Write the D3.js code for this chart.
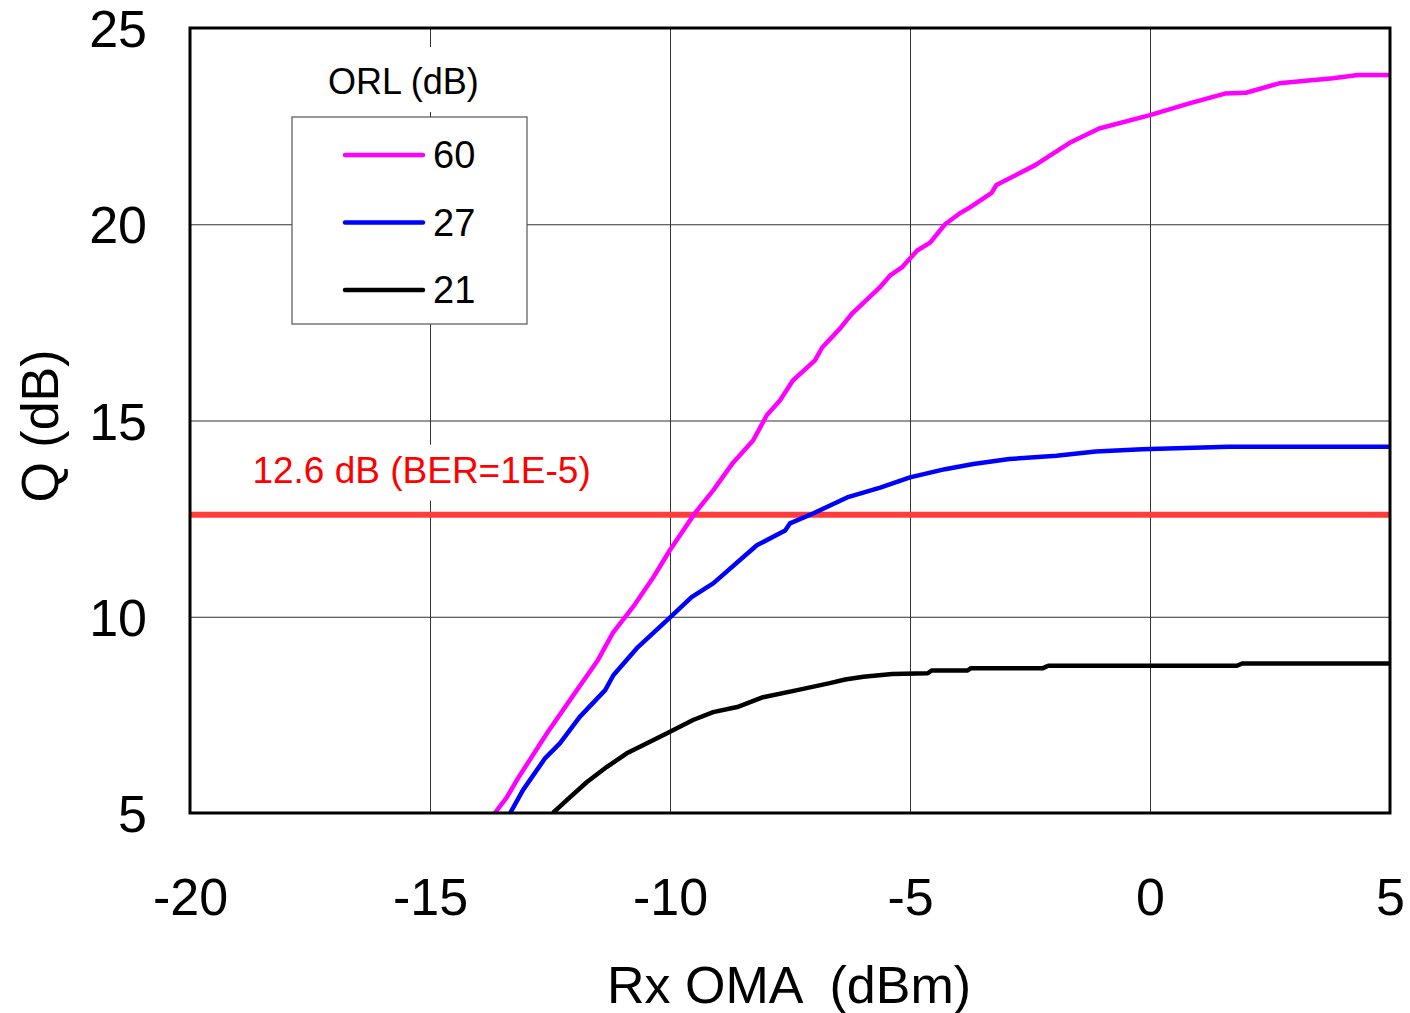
<!DOCTYPE html>
<html>
<head>
<meta charset="utf-8">
<script src="https://d3js.org/d3.v7.min.js"></script>
<style>
  body { margin: 0; background: #fff; }
  text { font-family: "Liberation Sans", Arial, sans-serif; }
</style>
</head>
<body>
<div id="chart"></div>
<script>
// ORL series (dB) and their colours
var orlNames = ["60", "27", "21"];
var orlColors = ["#ff00ff", "#0000ff", "#000000"];

// Rx OMA (dBm) / Q (dB)
var orl60 = [
  [-13.65, 5.0], [-13.4, 5.4], [-13.19, 5.84], [-12.56, 7.04], [-11.94, 8.13],
  [-11.5, 8.9], [-11.19, 9.59], [-10.77, 10.25], [-10.35, 11.0], [-10.0, 11.7],
  [-9.48, 12.64], [-9.1, 13.22], [-8.69, 13.92], [-8.27, 14.49], [-7.98, 15.14],
  [-7.71, 15.51], [-7.44, 16.02], [-6.98, 16.53], [-6.83, 16.86], [-6.46, 17.34],
  [-6.21, 17.72], [-5.63, 18.39], [-5.42, 18.69], [-5.17, 18.9], [-4.85, 19.33],
  [-4.58, 19.53], [-4.27, 20.0], [-3.96, 20.28], [-3.75, 20.43], [-3.3, 20.8],
  [-3.2, 21.0], [-2.4, 21.5], [-1.65, 22.09], [-1.06, 22.44], [0, 22.78],
  [0.82, 23.08], [1.56, 23.33], [2.0, 23.35], [2.69, 23.59], [3.81, 23.72],
  [4.33, 23.8], [5, 23.8]
];
var orl27 = [
  [-13.33, 5.0], [-13.06, 5.59], [-12.6, 6.4], [-12.29, 6.78], [-11.88, 7.45],
  [-11.35, 8.13], [-11.18, 8.51], [-10.69, 9.2], [-10.02, 9.96], [-9.55, 10.5],
  [-9.1, 10.85], [-8.19, 11.82], [-7.6, 12.2], [-7.5, 12.38], [-7.02, 12.63],
  [-6.31, 13.04], [-5.62, 13.29], [-5.0, 13.55], [-4.27, 13.76], [-3.68, 13.89],
  [-2.93, 14.02], [-1.95, 14.1], [-1.13, 14.21], [-0.16, 14.27], [1.64, 14.33],
  [5, 14.33]
];
var orl21 = [
  [-12.44, 5.0], [-12.15, 5.33], [-11.73, 5.79], [-11.32, 6.17], [-10.9, 6.52],
  [-10.48, 6.78], [-10.02, 7.06], [-9.52, 7.37], [-9.1, 7.57], [-8.6, 7.7],
  [-8.06, 7.95], [-7.35, 8.13], [-6.67, 8.31], [-6.35, 8.4], [-5.97, 8.47],
  [-5.37, 8.54], [-4.63, 8.56], [-4.55, 8.63], [-3.8, 8.63], [-3.73, 8.69],
  [-2.23, 8.69], [-2.12, 8.75], [1.81, 8.75], [1.92, 8.81], [5, 8.81]
];
var seriesData = [orl60, orl27, orl21];

var xTicks = [-20, -15, -10, -5, 0, 5];
var yTicks = [5, 10, 15, 20, 25];
var berLevel = 12.6;
var berLabel = "12.6 dB (BER=1E-5)";

var margin = { top: 28, right: 20, bottom: 200, left: 190 },
  width = 1410 - margin.left - margin.right,
  height = 1013 - margin.top - margin.bottom;

var svg = d3
  .select("#chart")
  .append("svg")
  .attr("width", 1410)
  .attr("height", 1013)
  .append("g")
  .attr("transform", "translate(" + margin.left + "," + margin.top + ")");

var x = d3.scaleLinear().domain([-20, 5]).range([0, width]);
var y = d3.scaleLinear().domain([5, 25]).range([height, 0]);

svg
  .append("clipPath")
  .attr("id", "plot-clip")
  .append("rect")
  .attr("width", width)
  .attr("height", height);

// grid
svg
  .append("g")
  .attr("class", "grid")
  .call(d3.axisBottom(x).tickValues(xTicks).tickSize(height).tickFormat(""))
  .call((g) => g.select(".domain").remove())
  .selectAll("line")
  .attr("stroke", "#333")
  .attr("stroke-width", 1);

svg
  .append("g")
  .attr("class", "grid")
  .call(d3.axisLeft(y).tickValues(yTicks).tickSize(-width).tickFormat(""))
  .call((g) => g.select(".domain").remove())
  .selectAll("line")
  .attr("stroke", "#333")
  .attr("stroke-width", 1);

// tick labels (plain hyphen for negatives, like the original)
var xAxis = svg
  .append("g")
  .attr("transform", "translate(0," + height + ")")
  .call(
    d3
      .axisBottom(x)
      .tickValues(xTicks)
      .tickSize(0)
      .tickPadding(102)
      .tickFormat((d) => String(d))
  );
xAxis.select(".domain").remove();
xAxis
  .selectAll("text")
  .attr("dy", 0)
  .style("font-size", "52px")
  .attr("fill", "#000");

var yAxis = svg
  .append("g")
  .call(
    d3
      .axisLeft(y)
      .tickValues(yTicks)
      .tickSize(0)
      .tickPadding(43)
      .tickFormat((d) => String(d))
  );
yAxis.select(".domain").remove();
yAxis
  .selectAll("text")
  .attr("dy", "0.36em")
  .style("font-size", "52px")
  .attr("fill", "#000");

// BER label with white backing
svg
  .append("rect")
  .attr("x", x(-18.9))
  .attr("y", y(berLevel) - 70)
  .attr("width", 350)
  .attr("height", 56)
  .attr("fill", "#fff");

svg
  .append("text")
  .attr("x", x(-18.7))
  .attr("y", y(berLevel) - 32)
  .style("font-size", "37px")
  .attr("fill", "#ff0000")
  .text(berLabel);

svg
  .append("line")
  .attr("x1", 0)
  .attr("x2", width)
  .attr("y1", y(berLevel))
  .attr("y2", y(berLevel))
  .attr("stroke", "#ff3b3b")
  .attr("stroke-width", 6);

// curves
var line = d3
  .line()
  .x((d) => x(d[0]))
  .y((d) => y(d[1]));

svg
  .append("g")
  .attr("clip-path", "url(#plot-clip)")
  .selectAll(".curve")
  .data(seriesData)
  .enter()
  .append("path")
  .attr("class", "curve")
  .attr("d", line)
  .attr("fill", "none")
  .attr("stroke", (d, i) => orlColors[i])
  .attr("stroke-width", 4.5)
  .attr("stroke-linejoin", "round");

// frame
svg
  .append("rect")
  .attr("width", width)
  .attr("height", height)
  .attr("fill", "none")
  .attr("stroke", "#000")
  .attr("stroke-width", 3);

// legend
var legendX = 292 - margin.left,
  legendY = 117 - margin.top;

svg
  .append("rect")
  .attr("x", 320 - margin.left)
  .attr("y", 47 - margin.top)
  .attr("width", 170)
  .attr("height", 65)
  .attr("fill", "#fff");

svg
  .append("text")
  .attr("x", 328 - margin.left)
  .attr("y", 94 - margin.top)
  .style("font-size", "36px")
  .attr("fill", "#000")
  .text("ORL (dB)");

var legend = svg
  .append("g")
  .attr("transform", "translate(" + legendX + "," + legendY + ")");

legend
  .append("rect")
  .attr("width", 235)
  .attr("height", 207)
  .attr("fill", "#fff")
  .attr("stroke", "#555")
  .attr("stroke-width", 1.2);

orlNames.forEach(function (name, i) {
  var ly = 38 + i * 67.5;
  legend
    .append("line")
    .attr("x1", 53)
    .attr("x2", 131)
    .attr("y1", ly)
    .attr("y2", ly)
    .attr("stroke", orlColors[i])
    .attr("stroke-width", 4.5)
    .attr("stroke-linecap", "round");
  legend
    .append("text")
    .attr("x", 141)
    .attr("y", ly + 13)
    .style("font-size", "38px")
    .attr("fill", "#000")
    .text(name);
});

// axis titles
svg
  .append("text")
  .attr("x", width / 2 - 1)
  .attr("y", height + 190)
  .attr("text-anchor", "middle")
  .style("font-size", "52px")
  .style("white-space", "pre")
  .attr("fill", "#000")
  .text("Rx OMA  (dBm)");

svg
  .append("text")
  .attr("transform", "translate(" + (58 - margin.left) + "," + (426 - margin.top) + ") rotate(-90)")
  .attr("text-anchor", "middle")
  .style("font-size", "52px")
  .attr("fill", "#000")
  .text("Q (dB)");
</script>
</body>
</html>
